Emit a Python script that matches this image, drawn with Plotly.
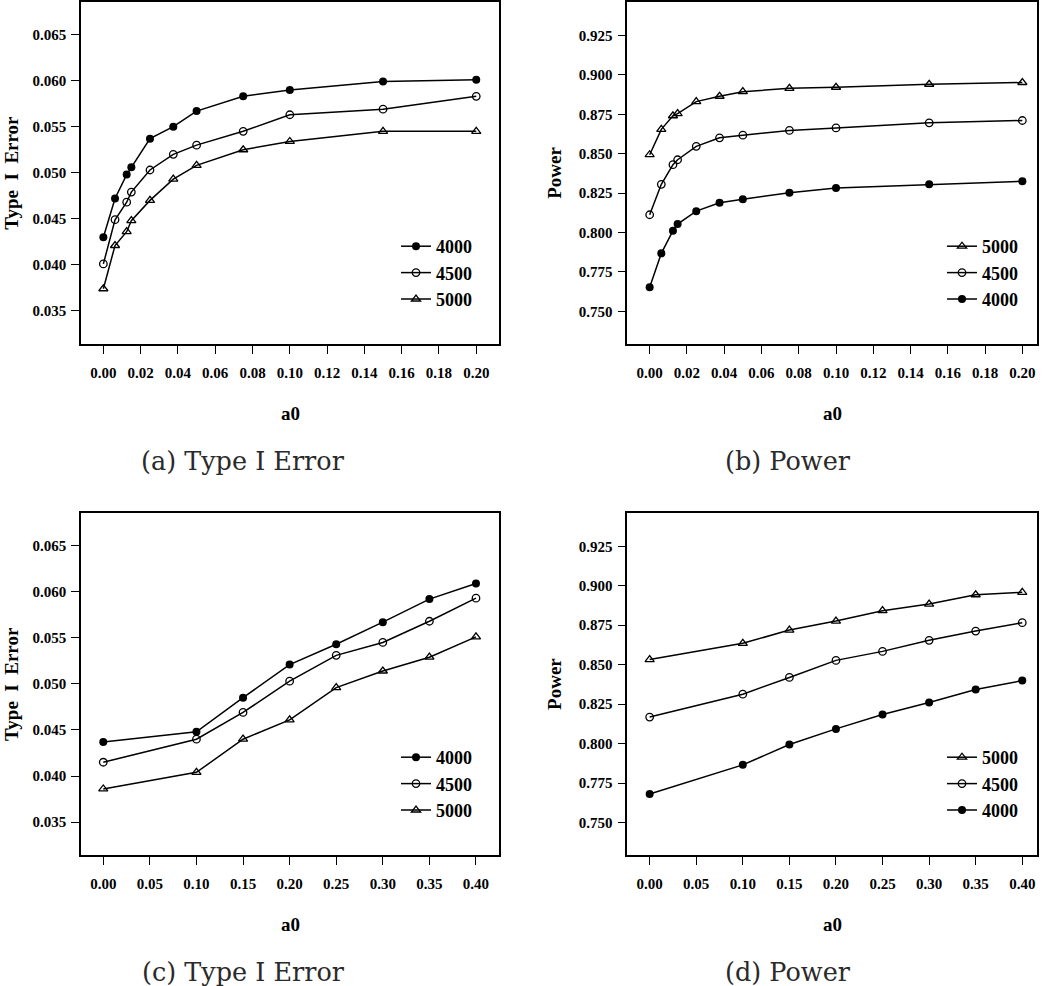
import plotly.graph_objects as go

# ---------------- data ----------------
x_top = [0, 0.00625, 0.0125, 0.015, 0.025, 0.0375, 0.05, 0.075, 0.1, 0.15, 0.2]
x_bot = [0, 0.1, 0.15, 0.2, 0.25, 0.3, 0.35, 0.4]

a_4000 = [0.0430, 0.0472, 0.0498, 0.0506, 0.0537, 0.0550, 0.0567, 0.0583, 0.0590, 0.0599, 0.0601]
a_4500 = [0.0401, 0.0449, 0.0468, 0.0479, 0.0503, 0.0520, 0.0530, 0.0545, 0.0563, 0.0569, 0.0583]
a_5000 = [0.0374, 0.0421, 0.0436, 0.0448, 0.0470, 0.0493, 0.0508, 0.0525, 0.0534, 0.0545, 0.0545]

b_5000 = [0.8494, 0.8655, 0.8741, 0.8755, 0.8831, 0.8865, 0.8894, 0.8915, 0.8922, 0.8941, 0.8952]
b_4500 = [0.8113, 0.8306, 0.8431, 0.8462, 0.8547, 0.8601, 0.8618, 0.8648, 0.8664, 0.8696, 0.8711]
b_4000 = [0.7653, 0.7868, 0.8012, 0.8054, 0.8136, 0.8189, 0.8212, 0.8252, 0.8283, 0.8306, 0.8325]

c_4000 = [0.0437, 0.0448, 0.0485, 0.0521, 0.0543, 0.0567, 0.0592, 0.0609]
c_4500 = [0.0415, 0.0440, 0.0469, 0.0503, 0.0531, 0.0545, 0.0568, 0.0593]
c_5000 = [0.0386, 0.0404, 0.0440, 0.0461, 0.0496, 0.0514, 0.0529, 0.0551]

d_5000 = [0.8532, 0.8635, 0.8719, 0.8776, 0.8842, 0.8884, 0.8943, 0.8958]
d_4500 = [0.8168, 0.8313, 0.8419, 0.8527, 0.8584, 0.8654, 0.8713, 0.8766]
d_4000 = [0.7680, 0.7865, 0.7994, 0.8093, 0.8184, 0.8260, 0.8342, 0.8399]

err_ticks = [0.035, 0.040, 0.045, 0.050, 0.055, 0.060, 0.065]
pow_ticks = [0.750, 0.775, 0.800, 0.825, 0.850, 0.875, 0.900, 0.925]
xt_top = [0.00, 0.02, 0.04, 0.06, 0.08, 0.10, 0.12, 0.14, 0.16, 0.18, 0.20]
xt_bot = [0.00, 0.05, 0.10, 0.15, 0.20, 0.25, 0.30, 0.35, 0.40]

captions = ["(a) Type I Error", "(b) Power", "(c) Type I Error", "(d) Power"]
ytitles = ["Type  I  Error", "Power", "Type  I  Error", "Power"]

# ---------------- layout helpers ----------------
W, H = 1050, 986
def px_x(p):
    return p / W
def px_y(p):
    return 1 - p / H

BOLD = "Liberation Serif"
styles = {
    "4000": dict(symbol="circle", size=8, color="black", line=dict(width=0, color="black")),
    "4500": dict(symbol="circle-open", size=7.5, color="black", line=dict(width=1.3, color="black")),
    "5000": dict(symbol="triangle-up-open", size=8, color="black", line=dict(width=1.3, color="black")),
}

panels = [
    ("x", "y", "legend", x_top, [("4000", a_4000), ("4500", a_4500), ("5000", a_5000)]),
    ("x2", "y2", "legend2", x_top, [("5000", b_5000), ("4500", b_4500), ("4000", b_4000)]),
    ("x3", "y3", "legend3", x_bot, [("4000", c_4000), ("4500", c_4500), ("5000", c_5000)]),
    ("x4", "y4", "legend4", x_bot, [("5000", d_5000), ("4500", d_4500), ("4000", d_4000)]),
]

fig = go.Figure()
for xa, ya, lg, xs, series in panels:
    for name, ys in series:
        fig.add_trace(go.Scatter(
            x=xs, y=ys, name=name, mode="lines+markers",
            line=dict(color="black", width=1.5),
            marker=styles[name],
            xaxis=xa, yaxis=ya, legend=lg,
        ))

# pixel boxes of the four plot areas (left, right, top, bottom)
boxes = [
    (81, 499, 1.5, 344),
    (627.3, 1036.7, 1.5, 344),
    (81, 499, 512.5, 855.3),
    (627.3, 1036.7, 512.5, 855.3),
]
xranges = [[-0.012, 0.2122], [-0.012, 0.2077], [-0.0239, 0.4247], [-0.024, 0.4155]]
yranges = [[0.0314, 0.0686], [0.7293, 0.9466], [0.0314, 0.0686], [0.7292, 0.9464]]
xticks = [xt_top, xt_top, xt_bot, xt_bot]
yticks = [err_ticks, pow_ticks, err_ticks, pow_ticks]

tickfont = dict(family=BOLD, size=15, color="black", weight="bold")
axis_common = dict(
    showgrid=False, zeroline=False, showline=True, linecolor="black", linewidth=1.6,
    mirror=True, ticks="outside", ticklen=8, tickwidth=1.4, tickcolor="black",
    tickfont=tickfont,
)

lay = {}
for i, (l, r, t, b) in enumerate(boxes):
    sfx = "" if i == 0 else str(i + 1)
    lay["xaxis" + sfx] = dict(
        domain=[px_x(l), px_x(r)], range=xranges[i], anchor="y" + sfx,
        tickvals=xticks[i], tickformat=".2f", ticklabelstandoff=6, **axis_common)
    lay["yaxis" + sfx] = dict(
        domain=[px_y(b), px_y(t)], range=yranges[i], anchor="x" + sfx,
        tickvals=yticks[i], tickformat=".3f", ticklabelstandoff=2, **axis_common)

legend_font = dict(family=BOLD, size=18, color="black", weight="bold")
leg_pos = [(396, 228), (942, 228), (396, 739), (942, 739)]
for i, (lx, ly) in enumerate(leg_pos):
    key = "legend" if i == 0 else "legend" + str(i + 1)
    lay[key] = dict(x=px_x(lx), y=px_y(ly), xanchor="left", yanchor="top",
                    bgcolor="rgba(0,0,0,0)", borderwidth=0, font=legend_font,
                    tracegroupgap=0, itemwidth=30)

annotations = []
for i, (l, r, t, b) in enumerate(boxes):
    cx = (l + r) / 2
    cy = (t + b) / 2
    annotations.append(dict(text="a0", x=px_x(cx), y=px_y(b + 69), xref="paper", yref="paper",
                            xanchor="center", yanchor="middle", showarrow=False,
                            font=dict(family=BOLD, size=19, color="black", weight="bold")))
    ytx = 12 if i % 2 == 0 else 555
    annotations.append(dict(text=ytitles[i], x=px_x(ytx), y=px_y(cy), xref="paper", yref="paper",
                            xanchor="center", yanchor="middle", textangle=-90, showarrow=False,
                            font=dict(family=BOLD, size=19, color="black", weight="bold")))
cap_pos = [(243, 461), (788, 461), (243, 972), (788, 972)]
for i, (cx, cy) in enumerate(cap_pos):
    annotations.append(dict(text=captions[i], x=px_x(cx), y=px_y(cy), xref="paper", yref="paper",
                            xanchor="center", yanchor="middle", showarrow=False,
                            font=dict(family="DejaVu Serif", size=25.5, color="#2a2a2a")))

fig.update_layout(
    width=W, height=H, margin=dict(l=0, r=0, t=0, b=0),
    paper_bgcolor="white", plot_bgcolor="white",
    annotations=annotations, **lay,
)

fig.write_html("out.html", config={"displayModeBar": False},
               post_script="document.body.style.margin='0px';")
